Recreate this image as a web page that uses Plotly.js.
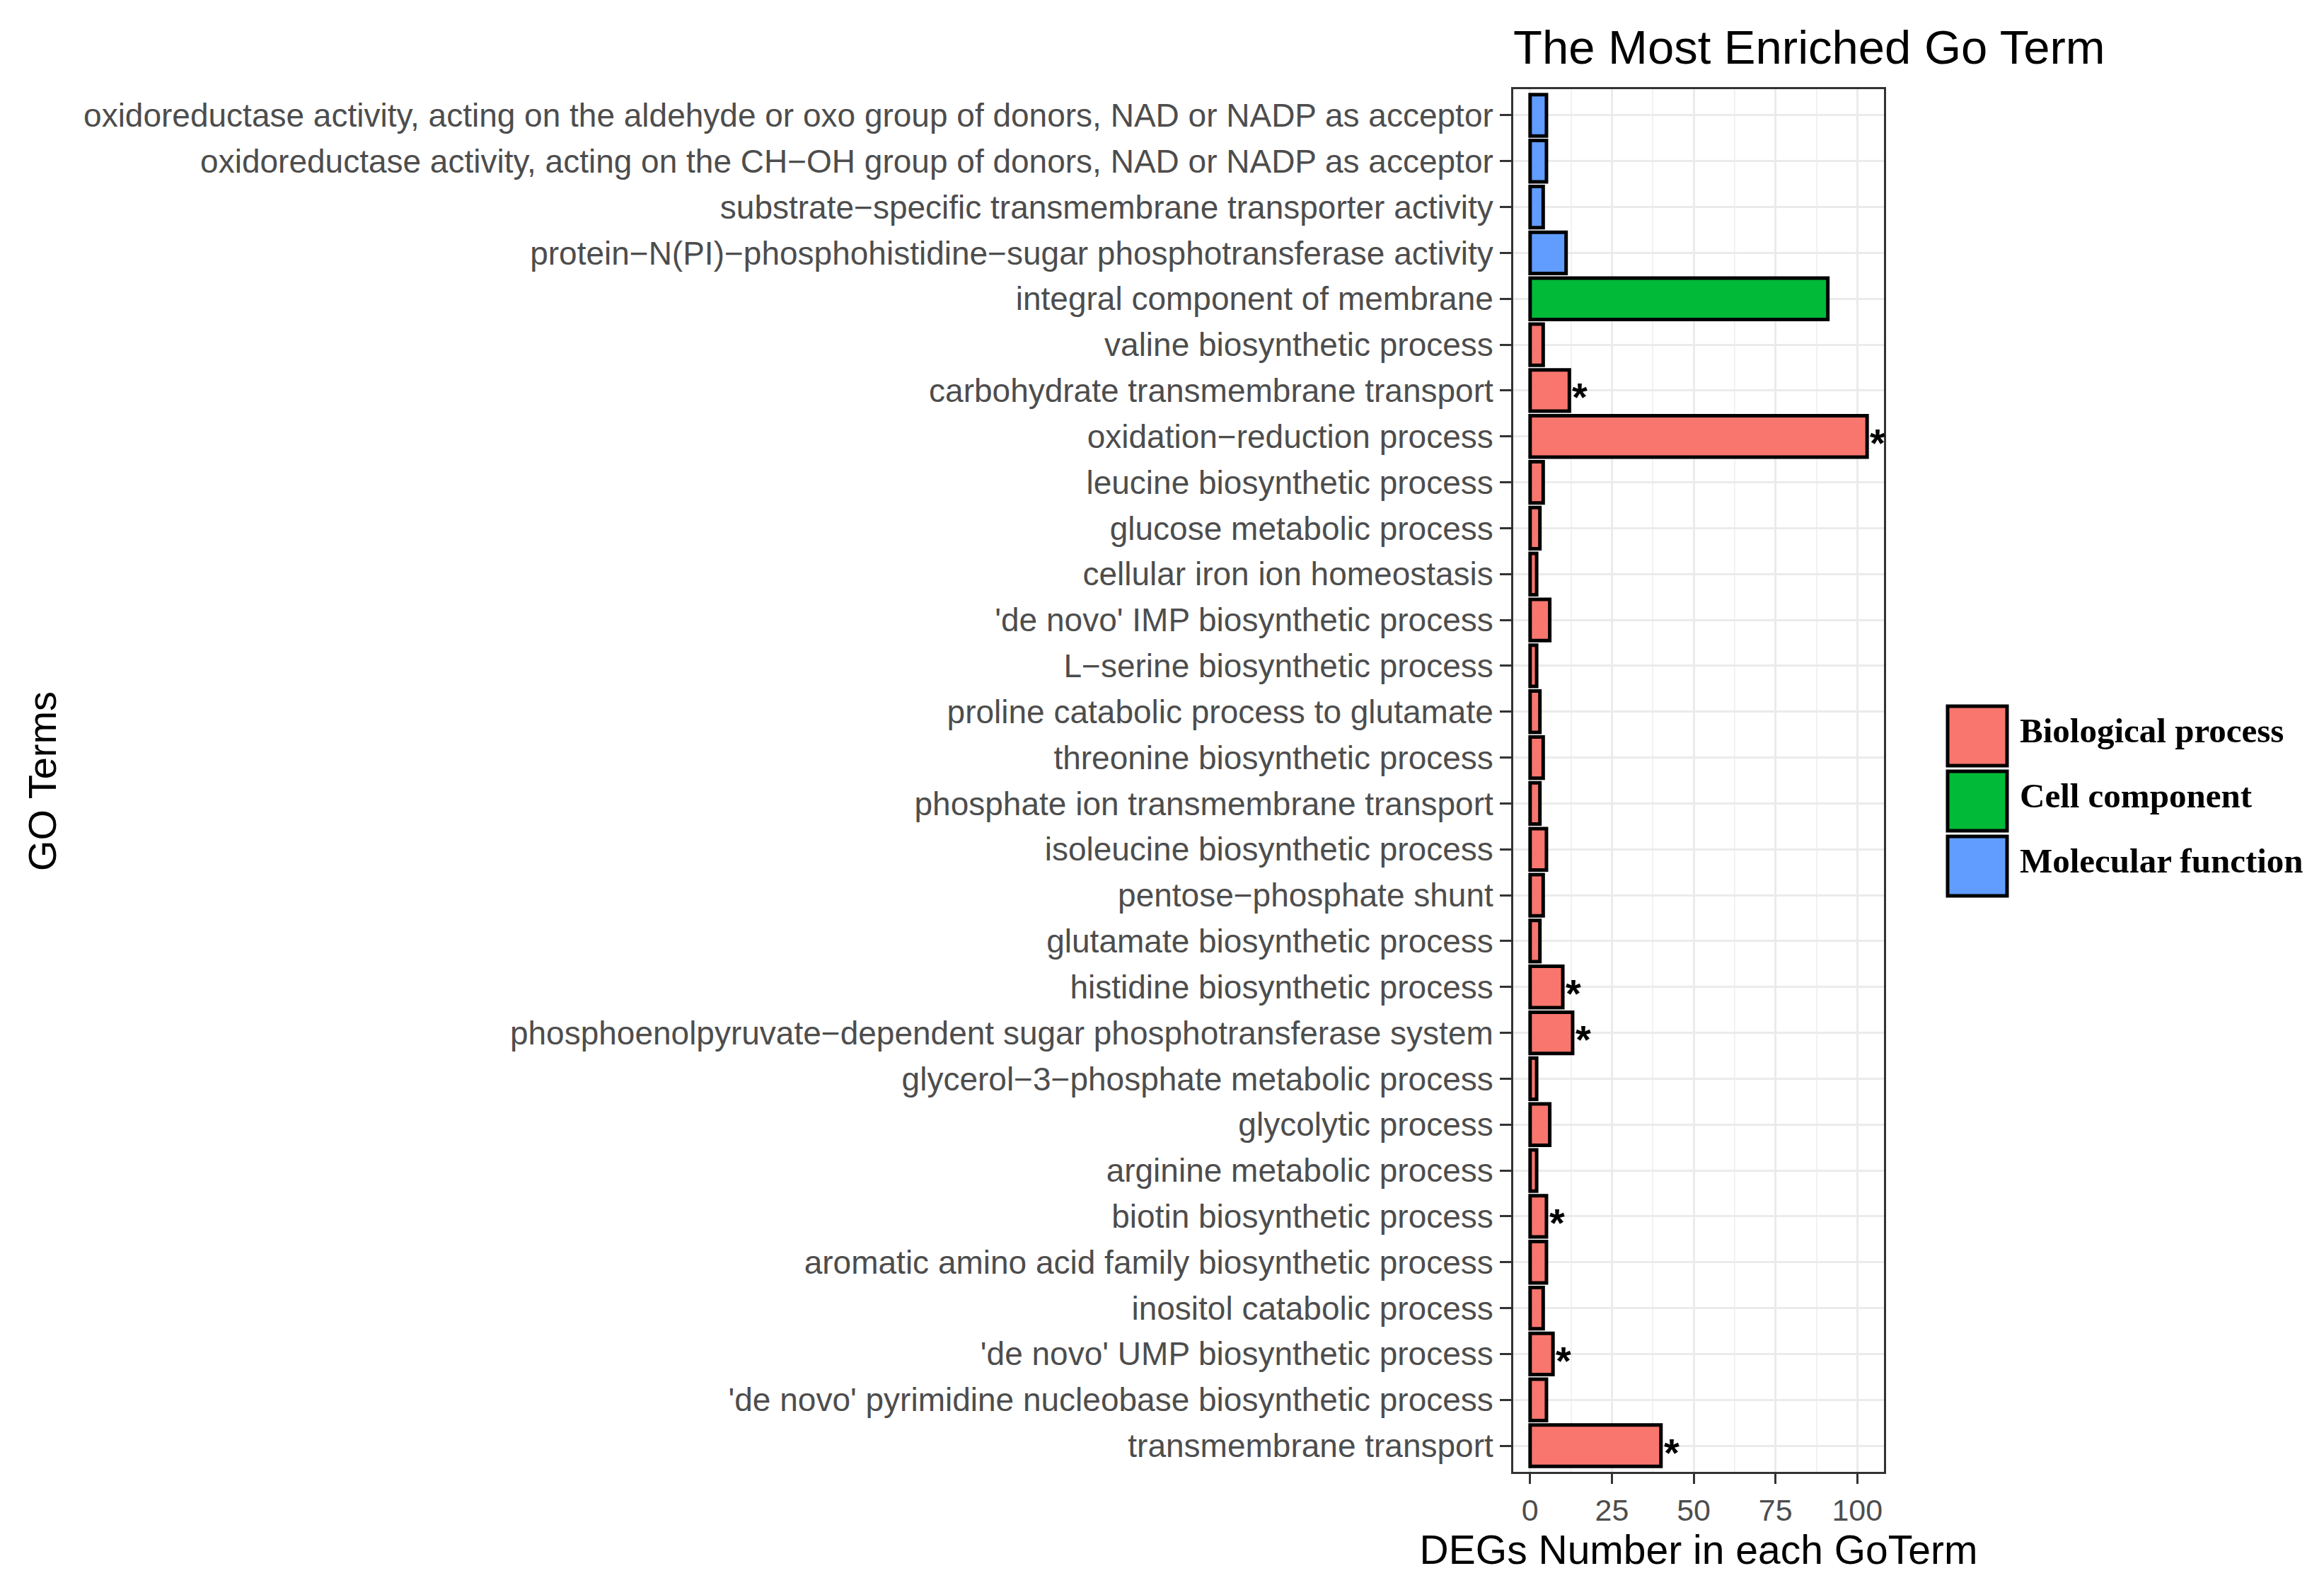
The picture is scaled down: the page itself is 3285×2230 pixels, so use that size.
<!DOCTYPE html>
<html>
<head>
<meta charset="utf-8">
<script src="https://cdn.plot.ly/plotly-3.0.1.min.js"></script>
<style>
  html, body { margin: 0; padding: 0; background: #fff; }
  #chart { width: 3285px; height: 2230px; }
</style>
</head>
<body>
<div id="chart"></div>
<script>
// GO terms, listed top to bottom as in the figure
const terms = [
  'oxidoreductase activity, acting on the aldehyde or oxo group of donors, NAD or NADP as acceptor',
  'oxidoreductase activity, acting on the CH\u2212OH group of donors, NAD or NADP as acceptor',
  'substrate\u2212specific transmembrane transporter activity',
  'protein\u2212N(PI)\u2212phosphohistidine\u2212sugar phosphotransferase activity',
  'integral component of membrane',
  'valine biosynthetic process',
  'carbohydrate transmembrane transport',
  'oxidation\u2212reduction process',
  'leucine biosynthetic process',
  'glucose metabolic process',
  'cellular iron ion homeostasis',
  "'de novo' IMP biosynthetic process",
  'L\u2212serine biosynthetic process',
  'proline catabolic process to glutamate',
  'threonine biosynthetic process',
  'phosphate ion transmembrane transport',
  'isoleucine biosynthetic process',
  'pentose\u2212phosphate shunt',
  'glutamate biosynthetic process',
  'histidine biosynthetic process',
  'phosphoenolpyruvate\u2212dependent sugar phosphotransferase system',
  'glycerol\u22123\u2212phosphate metabolic process',
  'glycolytic process',
  'arginine metabolic process',
  'biotin biosynthetic process',
  'aromatic amino acid family biosynthetic process',
  'inositol catabolic process',
  "'de novo' UMP biosynthetic process",
  "'de novo' pyrimidine nucleobase biosynthetic process",
  'transmembrane transport'
];

// DEGs number per term
const counts = [5, 5, 4, 11, 91, 4, 12, 103, 4, 3, 2, 6, 2, 3, 4, 3, 5, 4, 3, 10, 13, 2, 6, 2, 5, 5, 4, 7, 5, 40];

// ontology of each term
const groups = [
  'Molecular function', 'Molecular function', 'Molecular function', 'Molecular function',
  'Cell component',
  'Biological process', 'Biological process', 'Biological process', 'Biological process',
  'Biological process', 'Biological process', 'Biological process', 'Biological process',
  'Biological process', 'Biological process', 'Biological process', 'Biological process',
  'Biological process', 'Biological process', 'Biological process', 'Biological process',
  'Biological process', 'Biological process', 'Biological process', 'Biological process',
  'Biological process', 'Biological process', 'Biological process', 'Biological process',
  'Biological process'
];

// terms flagged as significant (*)
const significant = [
  'carbohydrate transmembrane transport',
  'oxidation\u2212reduction process',
  'histidine biosynthetic process',
  'phosphoenolpyruvate\u2212dependent sugar phosphotransferase system',
  'biotin biosynthetic process',
  "'de novo' UMP biosynthetic process",
  'transmembrane transport'
];

const groupNames = ['Biological process', 'Cell component', 'Molecular function'];
const groupColors = {
  'Biological process': '#F8766D',
  'Cell component': '#00BA38',
  'Molecular function': '#619CFF'
};

const xTicks = [0, 25, 50, 75, 100];

// page / panel geometry in pixels
const W = 3285, H = 2230;
const L = 2139, R = 2663, T = 126, B = 2080;
const px = x => (x - L) / (R - L);
const py = y => (B - y) / (B - T);

const bars = {
  type: 'bar',
  orientation: 'h',
  x: counts,
  y: terms,
  width: 0.9,
  marker: {
    color: groups.map(g => groupColors[g]),
    line: { color: '#000000', width: 5 }
  },
  showlegend: false,
  hoverinfo: 'x+y'
};

// significance stars, placed at the bar ends
const annotations = terms
  .map((t, i) => i)
  .filter(i => significant.includes(terms[i]))
  .map(i => ({
    x: counts[i], y: terms[i], xref: 'x', yref: 'y',
    text: '<b>*</b>', showarrow: false,
    xanchor: 'left', yanchor: 'middle',
    xshift: 2, yshift: -9,
    font: { family: 'Liberation Sans, Arial, sans-serif', size: 56, color: '#000000' }
  }));

// y axis title drawn by hand so it sits at the far left like the original
annotations.push({
  xref: 'paper', yref: 'paper', x: px(59), y: py(1104),
  xanchor: 'center', yanchor: 'middle', textangle: -90,
  text: 'GO Terms', showarrow: false,
  font: { family: 'Liberation Sans, Arial, sans-serif', size: 56, color: '#000000' }
});

// hand-drawn legend with big square keys like the original
const shapes = [];
const keySize = 84;
const keyTop = 998;
const keyPitch = 92;
const keyLeft = 2753;
groupNames.forEach((g, i) => {
  const y0 = keyTop + i * keyPitch;
  shapes.push({
    type: 'rect', xref: 'paper', yref: 'paper',
    x0: px(keyLeft), x1: px(keyLeft + keySize),
    y0: py(y0 + keySize), y1: py(y0),
    fillcolor: groupColors[g],
    line: { color: '#000000', width: 5 }
  });
  annotations.push({
    xref: 'paper', yref: 'paper',
    x: px(keyLeft + keySize + 16), y: py(y0 + keySize / 2 - 8),
    xanchor: 'left', yanchor: 'middle',
    text: '<b>' + g + '</b>',
    showarrow: false,
    font: { family: 'Liberation Serif, Times New Roman, serif', size: 49, color: '#000000' }
  });
});

const layout = {
  width: W,
  height: H,
  margin: { l: L, r: W - R, t: T, b: H - B, pad: 0 },
  paper_bgcolor: '#ffffff',
  plot_bgcolor: '#ffffff',
  font: { family: 'Liberation Sans, Arial, sans-serif', color: '#000000' },
  title: {
    text: 'The Most Enriched Go Term',
    font: { size: 67, color: '#000000' },
    xref: 'paper', x: 0, xanchor: 'left',
    yref: 'container', y: 1 - 67 / H, yanchor: 'middle'
  },
  barmode: 'overlay',
  xaxis: {
    range: [-5.15, 108.15],
    tickvals: xTicks,
    ticktext: xTicks.map(String),
    showgrid: true,
    gridcolor: '#EBEBEB',
    gridwidth: 3,
    minor: { dtick: 12.5, tick0: 0, showgrid: true, gridcolor: '#F2F2F2', gridwidth: 2 },
    zeroline: false,
    showline: true,
    mirror: true,
    linecolor: '#333333',
    linewidth: 3,
    ticks: 'outside',
    ticklen: 14,
    tickwidth: 3,
    tickcolor: '#333333',
    tickfont: { size: 43, color: '#4D4D4D' },
    title: { text: 'DEGs Number in each GoTerm', font: { size: 57, color: '#000000' }, standoff: 10 },
    automargin: false,
    fixedrange: true
  },
  yaxis: {
    type: 'category',
    categoryorder: 'array',
    categoryarray: terms,
    range: [terms.length - 0.43, -0.57],
    showgrid: true,
    gridcolor: '#EBEBEB',
    gridwidth: 3,
    zeroline: false,
    showline: true,
    mirror: true,
    linecolor: '#333333',
    linewidth: 3,
    ticks: 'outside',
    ticklen: 16,
    tickwidth: 3,
    tickcolor: '#333333',
    tickfont: { size: 46, color: '#4D4D4D' },
    automargin: false,
    fixedrange: true
  },
  shapes: shapes,
  annotations: annotations
};

Plotly.newPlot('chart', [bars], layout, { displayModeBar: false, staticPlot: true });
</script>
</body>
</html>
